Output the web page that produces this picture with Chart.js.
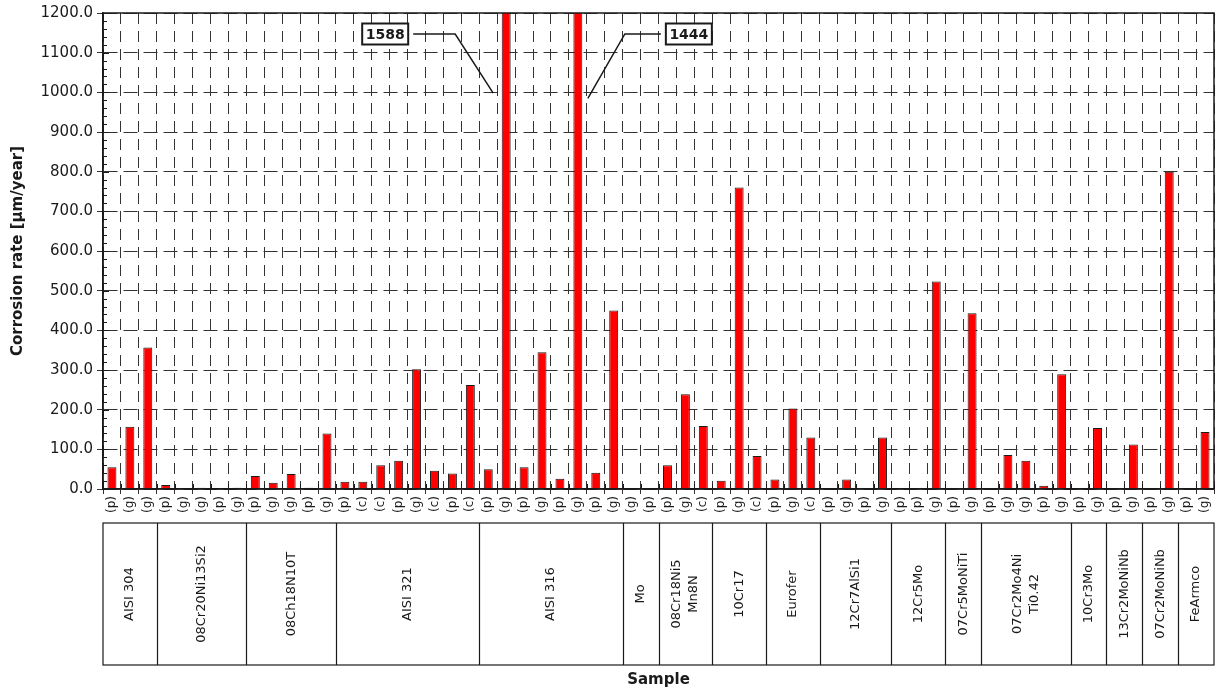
<!DOCTYPE html>
<html>
<head>
<meta charset="utf-8">
<script src="https://cdn.jsdelivr.net/npm/chart.js@4.4.1/dist/chart.umd.min.js"></script>
<style>
  html, body { margin: 0; padding: 0; background: #fff; }
</style>
</head>
<body>
<canvas id="bar" width="1224" height="693"></canvas>
<script>
// one bar per sample, (p)/(g)/(c) label under each
var sampleLabels = ['(p)','(g)','(g)', '(p)','(g)','(g)','(p)','(g)', '(p)','(g)','(g)','(p)','(g)',
    '(p)','(c)','(c)','(p)','(g)','(c)','(p)','(c)', '(p)','(g)','(p)','(g)','(p)','(g)','(p)','(g)',
    '(g)','(p)', '(p)','(g)','(c)', '(p)','(g)','(c)', '(p)','(g)','(c)', '(p)','(g)','(p)','(g)',
    '(p)','(p)','(g)', '(p)','(g)', '(p)','(g)','(g)','(p)','(g)', '(p)','(g)', '(p)','(g)', '(p)','(g)', '(p)','(g)'];
var corrosionRates = [55, 157, 357, 10, 0, 3, 0, 3, 33, 16, 38, 3, 140,
    18, 18, 60, 71, 302, 46, 39, 262, 50, 1588, 55, 345, 26, 1444, 41, 450,
    0, 0, 60, 239, 159, 21, 760, 83, 24, 203, 130, 0, 24, 0, 130,
    1, 1, 523, 2, 443, 2, 86, 71, 8, 289, 0, 154, 0, 112, 0, 800, 0, 144];
var groupNames = ['AISI 304', '08Cr20Ni13Si2', '08Ch18N10T', 'AISI 321', 'AISI 316', 'Mo',
    '08Cr18Ni5\nMn8N', '10Cr17', 'Eurofer', '12Cr7AlSi1', '12Cr5Mo', '07Cr5MoNiTi',
    '07Cr2Mo4Ni\nTi0.42', '10Cr3Mo', '13Cr2MoNiNb', '07Cr2MoNiNb', 'FeArmco'];
var groupSizes = [3, 5, 5, 8, 8, 2, 3, 3, 3, 4, 3, 2, 5, 2, 2, 2, 2];
var yMin = 0;
var yMax = 1200;
var yStep = 100;
var yMinorStep = 20;

var ink = '#1a1a1a';
var fontName = '"DejaVu Sans", sans-serif';

var decorations = {
    id: 'decorations',
    afterDraw: function (chart) {
        var ctx = chart.ctx;
        var area = chart.chartArea;
        var xs = chart.scales.x;
        var ys = chart.scales.y;
        var half = (xs.getPixelForValue(1) - xs.getPixelForValue(0)) / 2;
        ctx.save();
        ctx.strokeStyle = ink;
        ctx.lineWidth = 1.5;
        ctx.strokeRect(area.left, area.top, area.right - area.left, area.bottom - area.top);

        // minor ticks inside the y axis
        ctx.lineWidth = 1;
        for (var v = yMin; v <= yMax; v += yMinorStep) {
            var py = Math.round(ys.getPixelForValue(v)) + 0.5;
            ctx.beginPath();
            ctx.moveTo(area.left, py);
            ctx.lineTo(area.left + (v % yStep === 0 ? 6 : 4), py);
            ctx.stroke();
        }
        // small ticks inside the x axis
        for (var i = 0; i <= sampleLabels.length; i++) {
            var px = Math.round(xs.getPixelForValue(0) - half + i * 2 * half) + 0.5;
            ctx.beginPath();
            ctx.moveTo(px, area.bottom);
            ctx.lineTo(px, area.bottom - 5);
            ctx.stroke();
        }

        // table of sample groups under the labels
        var top = xs.top + 34;
        var bottom = xs.top + 176;
        ctx.lineWidth = 1.2;
        ctx.strokeRect(area.left, top, area.right - area.left, bottom - top);
        ctx.font = '13px ' + fontName;
        ctx.fillStyle = ink;
        ctx.textAlign = 'center';
        ctx.textBaseline = 'middle';
        var start = 0;
        groupNames.forEach(function (name, g) {
            var x0 = xs.getPixelForValue(start) - half;
            var x1 = xs.getPixelForValue(start + groupSizes[g] - 1) + half;
            if (g > 0) {
                ctx.beginPath();
                ctx.moveTo(Math.round(x0) + 0.5, top);
                ctx.lineTo(Math.round(x0) + 0.5, bottom);
                ctx.stroke();
            }
            var lines = name.split('\n');
            var cx = (x0 + x1) / 2;
            lines.forEach(function (t, k) {
                ctx.save();
                ctx.translate(cx + (k - (lines.length - 1) / 2) * 17, (top + bottom) / 2);
                ctx.rotate(-Math.PI / 2);
                ctx.fillText(t, 0, 0);
                ctx.restore();
            });
            start += groupSizes[g];
        });

        // callouts for bars above the axis, first to the left, next to the right
        var n = 0;
        corrosionRates.forEach(function (val, idx) {
            if (val <= yMax) return;
            var s = n % 2 === 0 ? -1 : 1;
            n++;
            var bx = xs.getPixelForValue(idx);
            var boxC = bx + s * (s < 0 ? 121 : 111);
            var boxY = area.top + 21;
            var w = 46, h = 21;
            ctx.lineWidth = 1.5;
            ctx.beginPath();
            ctx.moveTo(boxC - s * (w / 2 + 5), boxY);
            ctx.lineTo(bx + s * (s < 0 ? 51 : 47), boxY);
            ctx.lineTo(bx + s * (s < 0 ? 13 : 10), ys.getPixelForValue(s < 0 ? 998 : 985));
            ctx.stroke();
            ctx.fillStyle = '#fff';
            ctx.fillRect(boxC - w / 2, boxY - h / 2, w, h);
            ctx.lineWidth = 2;
            ctx.strokeRect(boxC - w / 2, boxY - h / 2, w, h);
            ctx.fillStyle = ink;
            ctx.font = 'bold 14px ' + fontName;
            ctx.fillText(String(val), boxC, boxY + 1);
        });
        ctx.restore();
    }
};

var ctx = document.getElementById('bar').getContext('2d');
var chart = new Chart(ctx, {
    type: 'bar',
    data: {
        labels: sampleLabels,
        datasets: [{
            data: corrosionRates,
            backgroundColor: '#ff0000',
            borderColor: '#1a1a1a',
            borderWidth: 1,
            borderSkipped: 'bottom',
            barPercentage: 0.5,
            categoryPercentage: 1
        }]
    },
    options: {
        responsive: false,
        animation: false,
        layout: { padding: { left: 0, right: 10, top: 12, bottom: 0 } },
        plugins: {
            legend: { display: false },
            tooltip: { enabled: false }
        },
        scales: {
            x: {
                grid: { color: '#333', lineWidth: 1, tickLength: 5, offset: true },
                border: { color: ink, width: 1.5, dash: [11, 7] },
                ticks: {
                    color: ink,
                    font: { family: fontName, size: 12 },
                    minRotation: 90, maxRotation: 90,
                    autoSkip: false, padding: 2
                },
                title: {
                    display: true, text: 'Sample', color: ink,
                    font: { family: fontName, size: 15, weight: 'bold' },
                    padding: { top: 0, bottom: 4 }
                },
                afterFit: function (scale) { scale.height = 204; }
            },
            y: {
                min: yMin, max: yMax,
                grid: { color: '#333', lineWidth: 1, tickLength: 6 },
                border: { color: ink, width: 1.5, dash: [14, 6] },
                ticks: {
                    stepSize: yStep, color: ink, padding: 4,
                    font: { family: fontName, size: 15 },
                    callback: function (v) { return v.toFixed(1); }
                },
                title: {
                    display: true, text: 'Corrosion rate [µm/year]', color: ink,
                    font: { family: fontName, size: 15, weight: 'bold' },
                    padding: { top: 9, bottom: 0 }
                },
                afterFit: function (scale) { scale.width = 103; }
            }
        }
    },
    plugins: [decorations]
});
</script>
</body>
</html>
